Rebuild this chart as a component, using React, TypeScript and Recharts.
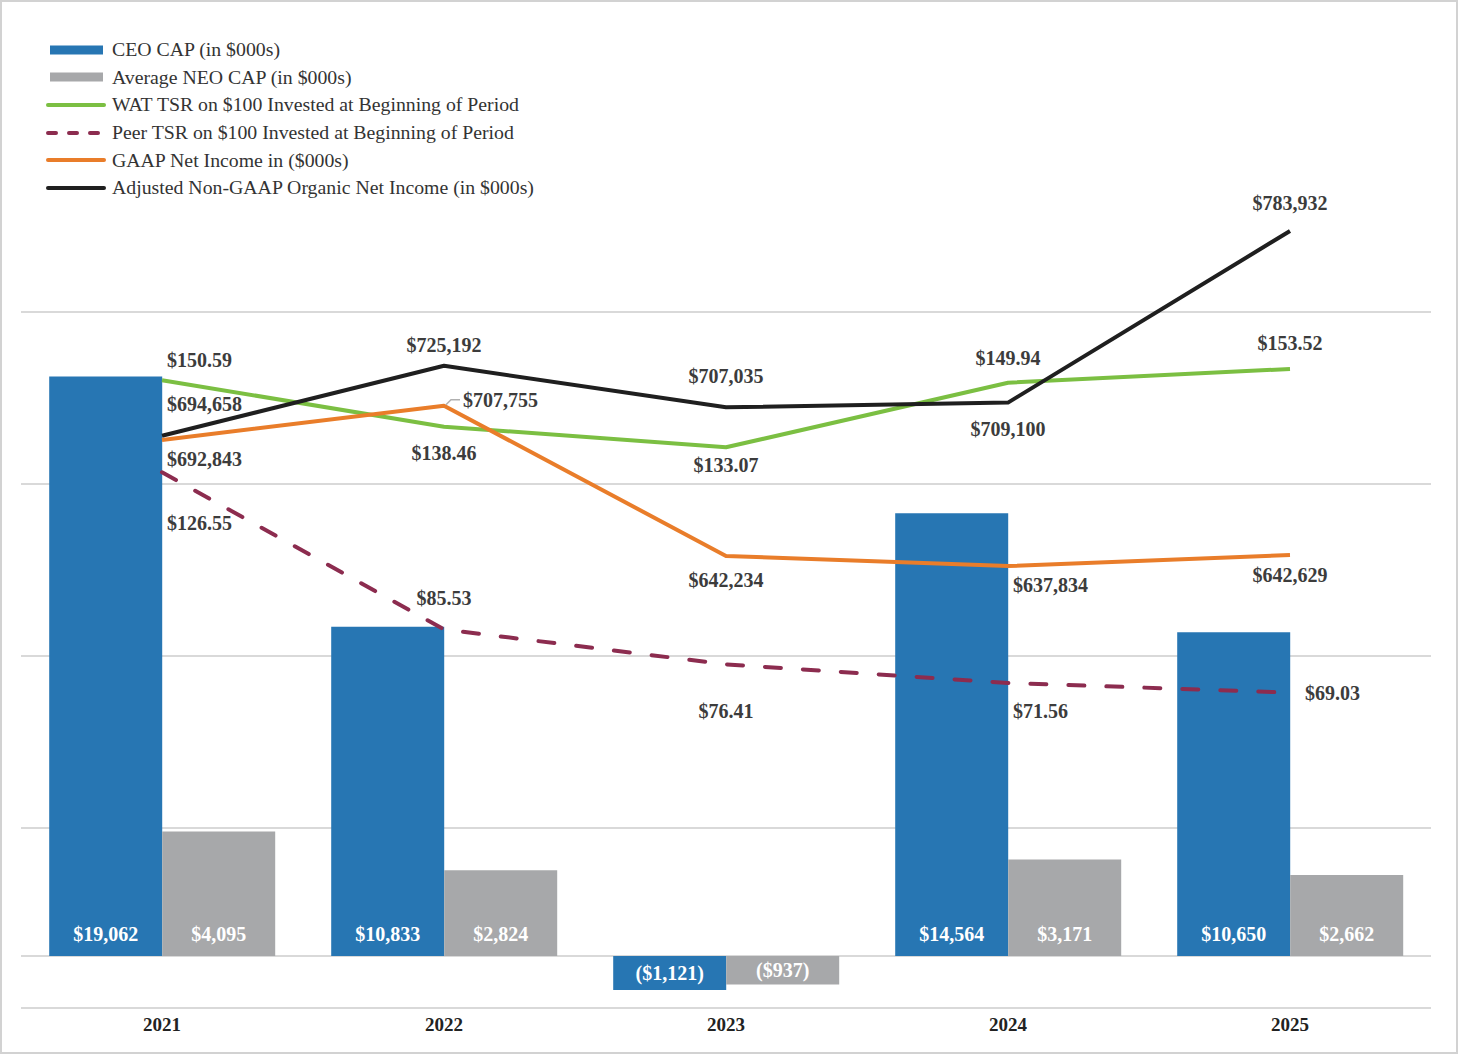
import React from 'react';
import { ComposedChart, Bar, Line, XAxis, YAxis, CartesianGrid, LabelList, Legend } from 'recharts';

// ---------- data ----------
const YEARS = ['2021', '2022', '2023', '2024', '2025'];
const CEO_CAP = [19062, 10833, -1121, 14564, 10650];
const NEO_CAP = [4095, 2824, -937, 3171, 2662];
const WAT_TSR = [150.59, 138.46, 133.07, 149.94, 153.52];
const PEER_TSR = [126.55, 85.53, 76.41, 71.56, 69.03];
const GAAP_NI = [692843, 707755, 642234, 637834, 642629];
const ADJ_NI = [694658, 725192, 707035, 709100, 783932];
const GRID_STEPS = [1, 2, 3, 4];
const CAP_GRID = [0];

const SERIES_NAMES = {
  ceo: 'CEO CAP (in $000s)',
  neo: 'Average NEO CAP (in $000s)',
  wat: 'WAT TSR on $100 Invested at Beginning of Period',
  peer: 'Peer TSR on $100 Invested at Beginning of Period',
  gaap: 'GAAP Net Income in ($000s)',
  adj: 'Adjusted Non-GAAP Organic Net Income (in $000s)',
};

// ---------- styles / layout ----------
const W = 1458;
const H = 1054;
const FONT = '"Liberation Serif", "Times New Roman", Times, serif';
const C_BLUE = '#2776B3';
const C_GRAY = '#A7A8AA';
const C_GREEN = '#7BBF42';
const C_PEER = '#8C2C4F';
const C_ORANGE = '#E97D2A';
const C_BLACK = '#1F1F1F';
const C_GRID = '#D9D9D9';
const C_LABEL = '#3C3C3C';

const CAP_DOMAIN = [-1711, 26842];
const TSR_DOMAIN = [-13.3, 213.3];
const NI_DOMAIN = [445119, 823613];
const GRID_DOMAIN = [-0.0465, 5];

type Place = { dx: number; dy: number; anchor: 'start' | 'middle'; leader?: boolean };
const R = (dy: number, dx = 5): Place => ({ dx, dy, anchor: 'start' });
const C = (dy: number): Place => ({ dx: 0, dy, anchor: 'middle' });

const WAT_PLACES: Place[] = [R(-20), C(26), C(18), C(-25), C(-26)];
const PEER_PLACES: Place[] = [R(51), C(-31), C(47), R(28), R(0, 15)];
const GAAP_PLACES: Place[] = [R(19), { dx: 19, dy: -6, anchor: 'start', leader: true }, C(24), R(19), C(20)];
const ADJ_PLACES: Place[] = [R(-32), C(-21), C(-31), C(26), C(-28)];

const data = YEARS.map((year, i) => ({
  year,
  ceo: CEO_CAP[i],
  neo: NEO_CAP[i],
  wat: WAT_TSR[i],
  peer: PEER_TSR[i],
  gaap: GAAP_NI[i],
  adj: ADJ_NI[i],
}));

const fmtCap = (v: number) => {
  const s = '$' + Math.abs(v).toLocaleString('en-US');
  return v < 0 ? `(${s})` : s;
};
const fmtTsr = (v: number) => '$' + v.toFixed(2);
const fmtNi = (v: number) => '$' + v.toLocaleString('en-US');

const getBox = (p: any) => {
  const vb = p.viewBox || {};
  const x = p.x ?? vb.x;
  const y = p.y ?? vb.y;
  const width = p.width ?? vb.width ?? 0;
  const height = p.height ?? vb.height ?? 0;
  return { x: Number(x), y: Number(y), width: Number(width), height: Number(height) };
};

const BarLabel = (p: any) => {
  const { x, y, width, height } = getBox(p);
  const value = Number(p.value);
  const top = Math.min(y, y + height);
  const bottom = Math.max(y, y + height);
  const cx = x + width / 2;
  const cy = value >= 0 ? bottom - 22 : (top + bottom) / 2;
  return (
    <text
      x={cx}
      y={cy}
      textAnchor="middle"
      dominantBaseline="central"
      fill="#FFFFFF"
      fontFamily={FONT}
      fontWeight="bold"
      fontSize={20}
    >
      {fmtCap(value)}
    </text>
  );
};

const makeLineLabel = (values: number[], places: Place[], fmt: (v: number) => string) => (p: any) => {
  const { x, y } = getBox(p);
  const value = Number(p.value);
  const idx = typeof p.index === 'number' ? p.index : values.indexOf(value);
  const pl = places[idx] || C(-20);
  return (
    <g>
      {pl.leader ? (
        <path d={`M${x + 2},${y - 1} L${x + 7},${y - 6} L${x + 16},${y - 6}`} stroke="#B0B0B0" strokeWidth={1.5} fill="none" />
      ) : null}
      <text
        x={x + pl.dx}
        y={y + pl.dy}
        textAnchor={pl.anchor}
        dominantBaseline="central"
        fill={C_LABEL}
        fontFamily={FONT}
        fontWeight="bold"
        fontSize={20}
      >
        {fmt(value)}
      </text>
    </g>
  );
};

const LEGEND_ITEMS = [
  { key: 'ceo', kind: 'rect', color: C_BLUE },
  { key: 'neo', kind: 'rect', color: C_GRAY },
  { key: 'wat', kind: 'line', color: C_GREEN },
  { key: 'peer', kind: 'dash', color: C_PEER },
  { key: 'gaap', kind: 'line', color: C_ORANGE },
  { key: 'adj', kind: 'line', color: C_BLACK },
];

const LegendContent = () => (
  <div style={{ fontFamily: FONT, fontSize: 19.8, color: '#333333' }}>
    {LEGEND_ITEMS.map((it) => (
      <div key={it.key} style={{ display: 'flex', alignItems: 'center', height: 27.6, whiteSpace: 'nowrap' }}>
        <svg width={60} height={12} style={{ marginRight: 6, flex: 'none' }}>
          {it.kind === 'rect' ? (
            <rect x={4} y={1.5} width={53} height={9} fill={it.color} />
          ) : (
            <line
              x1={2}
              y1={6}
              x2={58}
              y2={6}
              stroke={it.color}
              strokeWidth={4}
              strokeLinecap="round"
              strokeDasharray={it.kind === 'dash' ? '8 13' : undefined}
            />
          )}
        </svg>
        <span>{(SERIES_NAMES as any)[it.key]}</span>
      </div>
    ))}
  </div>
);

export default function App() {
  return (
    <div style={{ position: 'absolute', left: 0, top: 0, width: W, height: H, background: '#FFFFFF', overflow: 'hidden' }}>
      <ComposedChart
        width={W}
        height={H}
        data={data}
        margin={{ top: 140, right: 27, bottom: 16, left: 21 }}
        barCategoryGap="10%"
        barGap={0}
      >
        <XAxis
          dataKey="year"
          axisLine={{ stroke: C_GRID, strokeWidth: 2 }}
          tickLine={false}
          tick={{ fill: '#222222', fontFamily: FONT, fontWeight: 'bold', fontSize: 19, dy: 2 }}
          height={30}
        />
        <YAxis yAxisId="cap" type="number" domain={CAP_DOMAIN} allowDataOverflow hide />
        <YAxis yAxisId="tsr" type="number" domain={TSR_DOMAIN} allowDataOverflow hide />
        <YAxis yAxisId="ni" type="number" domain={NI_DOMAIN} allowDataOverflow hide />
        <YAxis yAxisId="grid" type="number" domain={GRID_DOMAIN} allowDataOverflow hide />
        <CartesianGrid yAxisId="grid" vertical={false} horizontalValues={GRID_STEPS} stroke={C_GRID} strokeWidth={2} />
        <CartesianGrid yAxisId="cap" vertical={false} horizontalValues={CAP_GRID} stroke={C_GRID} strokeWidth={2} />
        <Legend
          content={LegendContent}
          layout="vertical"
          align="center"
          verticalAlign="middle"
          wrapperStyle={{ left: 46, top: 36, width: 560, height: 170 }}
        />
        <Bar yAxisId="cap" dataKey="ceo" name={SERIES_NAMES.ceo} fill={C_BLUE} isAnimationActive={false}>
          <LabelList dataKey="ceo" content={BarLabel} />
        </Bar>
        <Bar yAxisId="cap" dataKey="neo" name={SERIES_NAMES.neo} fill={C_GRAY} isAnimationActive={false}>
          <LabelList dataKey="neo" content={BarLabel} />
        </Bar>
        <Line
          yAxisId="tsr"
          dataKey="wat"
          name={SERIES_NAMES.wat}
          stroke={C_GREEN}
          strokeWidth={4}
          strokeLinejoin="round"
          dot={false}
          activeDot={false}
          isAnimationActive={false}
        >
          <LabelList dataKey="wat" content={makeLineLabel(WAT_TSR, WAT_PLACES, fmtTsr)} />
        </Line>
        <Line
          yAxisId="tsr"
          dataKey="peer"
          name={SERIES_NAMES.peer}
          stroke={C_PEER}
          strokeWidth={4}
          strokeLinecap="round"
          strokeDasharray="16 22"
          dot={false}
          activeDot={false}
          isAnimationActive={false}
        >
          <LabelList dataKey="peer" content={makeLineLabel(PEER_TSR, PEER_PLACES, fmtTsr)} />
        </Line>
        <Line
          yAxisId="ni"
          dataKey="gaap"
          name={SERIES_NAMES.gaap}
          stroke={C_ORANGE}
          strokeWidth={4}
          strokeLinejoin="round"
          dot={false}
          activeDot={false}
          isAnimationActive={false}
        >
          <LabelList dataKey="gaap" content={makeLineLabel(GAAP_NI, GAAP_PLACES, fmtNi)} />
        </Line>
        <Line
          yAxisId="ni"
          dataKey="adj"
          name={SERIES_NAMES.adj}
          stroke={C_BLACK}
          strokeWidth={4}
          strokeLinejoin="round"
          dot={false}
          activeDot={false}
          isAnimationActive={false}
        >
          <LabelList dataKey="adj" content={makeLineLabel(ADJ_NI, ADJ_PLACES, fmtNi)} />
        </Line>
      </ComposedChart>
      <div
        style={{
          position: 'absolute',
          left: 0,
          top: 0,
          width: W,
          height: H,
          boxSizing: 'border-box',
          border: '2px solid #D2D2D2',
          pointerEvents: 'none',
        }}
      />
    </div>
  );
}
